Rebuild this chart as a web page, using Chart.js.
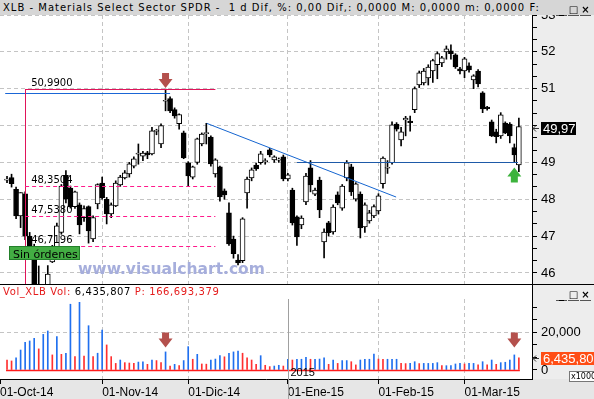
<!DOCTYPE html>
<html>
<head>
<meta charset="utf-8">
<title>XLB - Materials Select Sector SPDR</title>
<script src="https://cdn.jsdelivr.net/npm/chart.js@4.4.1/dist/chart.umd.min.js"></script>
<style>
  body { margin: 0; background: #fff; }
  #wrap { position: relative; width: 594px; height: 399px; overflow: hidden; background: #fff; }
  canvas { position: absolute; left: 0; }
  #main { top: 15px; }
  #vol { top: 285px; }
  .hdr { position: absolute; left: 0; width: 594px; height: 15px; box-sizing: border-box; padding-left: 3px;
         font: 10px 'DejaVu Sans', sans-serif; line-height: 15px; white-space: pre; letter-spacing: 0.6px; }
  #h1 { top: 0; background: #d6d6d6; color: #000; letter-spacing: 1px; }
  #h2 { top: 285px; height: 14px; line-height: 14px; color: #e51c1c; }
  #h2 b { font-weight: normal; color: #000; }
  #sep { position: absolute; left: 0; top: 284px; width: 594px; height: 1px; background: #000; }
  .btns { position: absolute; right: 3px; top: 2px; height: 11px; letter-spacing: 0; }
  .btns span { display: inline-block; width: 11px; height: 10px; margin-left: 1px; border-bottom: 1px solid #555;
               font: bold 10px 'DejaVu Sans', sans-serif; line-height: 10px; text-align: center; color: #000; }
</style>
</head>
<body>
<div id="wrap">
  <canvas id="main" width="594" height="269"></canvas>
  <canvas id="vol" width="594" height="114"></canvas>
  <div id="h1" class="hdr">XLB - Materials Select Sector SPDR -  1 d Dif, %: 0,00 Dif,: 0,0000 M: 0,0000 m: 0,0000 F:<div class="btns"><span>_</span><span>□</span><span>×</span></div></div>
  <div id="sep"></div>
  <div id="h2" class="hdr">Vol_XLB Vol: <b>6,435,807</b> P: 166,693,379<div class="btns" style="top:3px"><span>_</span><span>□</span><span>×</span></div></div>
</div>
<script>
// daily bars, 3 Oct 2014 .. 18 Mar 2015
const opens = [48.52,48.59,48.27,47.55,48.15,47.00,46.70,45.40,45.00,45.30,
  46.30,46.69,47.10,48.65,48.30,47.80,47.85,47.50,47.80,46.92,
  47.87,48.44,48.00,47.60,47.82,48.39,48.58,48.69,48.90,49.22,
  49.17,49.26,49.23,49.84,49.50,50.66,50.73,50.43,50.05,49.80,
  48.99,48.60,49.00,49.50,49.78,49.69,48.69,48.88,48.23,47.63,
  46.92,46.35,46.33,48.17,48.58,48.93,48.99,49.02,49.34,49.07,
  49.06,49.15,48.55,48.25,47.52,47.30,47.93,48.85,48.14,48.52,
  46.84,47.36,47.11,48.12,47.76,48.58,48.88,48.00,48.14,47.25,
  47.41,47.55,47.68,48.42,48.84,48.99,50.04,49.61,50.15,50.12,
  50.43,51.10,51.16,51.29,51.48,51.65,51.70,52.00,52.03,51.92,
  51.54,51.48,51.62,51.24,51.48,50.89,50.50,50.10,49.83,49.72,
  50.07,50.04,49.40,48.93];
const highs = [48.62,48.68,48.33,48.18,48.20,47.10,46.78,46.19,45.60,46.20,
  46.75,47.35,48.40,48.78,48.36,48.22,47.90,47.82,47.82,47.55,
  48.42,48.60,48.05,47.90,48.50,48.65,48.78,49.00,49.15,49.50,
  49.30,49.30,49.95,49.90,50.05,50.99,50.78,50.48,50.32,49.85,
  49.02,48.90,49.66,49.80,50.06,49.72,49.10,48.90,48.28,47.90,
  47.00,46.50,47.50,48.60,48.85,48.98,49.30,49.10,49.38,49.18,
  49.12,49.20,48.70,48.30,47.55,47.55,48.70,49.05,48.30,48.60,
  47.20,47.40,47.85,48.20,48.40,49.05,48.95,48.45,48.20,47.90,
  47.70,47.85,48.15,49.15,49.05,50.10,50.08,49.95,50.25,50.26,
  51.05,51.48,51.55,51.65,51.80,52.00,51.88,52.16,52.19,51.95,
  51.58,51.85,51.70,51.38,51.52,50.92,50.52,50.15,49.90,50.35,
  50.10,50.08,49.50,50.20];
const lows = [48.45,48.33,47.47,47.23,46.90,46.60,45.30,44.90,44.09,45.20,
  46.28,46.50,47.05,47.90,47.76,47.75,47.06,47.40,46.81,46.85,
  47.74,48.00,47.33,47.50,47.80,48.35,48.55,48.60,48.85,48.95,
  49.05,49.10,49.20,49.75,49.40,50.40,50.35,50.20,49.90,49.10,
  48.36,48.55,48.95,49.45,49.50,48.90,48.60,47.95,48.00,46.75,
  46.40,46.22,46.28,47.76,48.50,48.78,48.95,48.95,49.15,49.00,
  49.00,48.50,48.50,47.30,46.75,47.20,47.85,48.20,48.10,47.50,
  46.41,47.00,47.05,47.85,47.70,48.50,48.10,47.95,46.95,47.10,
  47.35,47.50,47.60,48.30,48.70,48.95,49.85,49.45,49.72,49.85,
  50.35,51.03,51.10,51.10,51.17,51.27,51.60,51.80,51.80,51.55,
  51.40,51.30,51.45,51.00,51.05,50.35,50.42,49.70,49.53,49.65,
  49.78,49.53,49.00,48.75];
const closes = [48.53,48.42,47.55,48.18,47.00,46.69,45.40,45.10,45.30,45.97,
  46.65,47.28,48.36,48.00,47.80,48.20,47.30,47.75,47.14,47.50,
  48.40,48.04,47.60,47.85,48.44,48.60,48.72,48.96,49.10,49.25,
  49.25,49.20,49.86,49.86,50.00,50.68,50.40,50.26,50.30,49.12,
  48.63,48.88,49.64,49.77,49.80,48.96,49.07,48.06,48.12,46.79,
  46.52,46.27,47.47,48.55,48.80,48.82,49.23,49.05,49.20,49.15,
  49.08,48.55,48.66,47.36,46.98,47.49,48.63,48.39,48.25,47.71,
  47.11,47.09,47.79,47.90,48.36,48.99,48.20,48.42,47.22,47.85,
  47.63,47.80,48.09,49.12,48.86,50.02,49.90,49.83,50.20,50.08,
  51.00,51.43,51.48,51.59,51.76,51.95,51.84,52.08,51.95,51.59,
  51.48,51.81,51.51,51.35,51.13,50.45,50.46,49.72,49.70,50.29,
  49.80,49.72,49.20,49.97];
// volume in thousands of shares
const volumes = [5300,4800,6500,10600,14700,15400,16800,11200,18900,20700,
  8000,17700,8300,8900,34900,7100,35900,7400,23500,7100,
  8900,21200,13300,7100,3500,5300,3900,3700,3500,4200,
  4400,3000,5300,5000,3900,9600,2100,3000,2300,5000,
  12400,5700,8300,3200,3100,5300,5800,7600,7000,8900,
  9600,10100,8900,6500,5300,3000,7600,2500,1800,2100,
  2500,2100,5700,5300,5700,5700,6700,5700,5700,5800,
  6500,3000,5300,3500,5000,5000,4400,2700,5300,5700,
  5700,8500,5800,5700,5700,5700,5700,3500,3400,3500,
  4400,3400,3500,3500,3500,3900,2300,2300,2300,3200,
  3500,3200,3500,3500,2700,4400,2700,5300,3000,3900,
  4100,5300,8000,6436];

const monthLabels = ['01-Oct-14', '01-Nov-14', '01-Dic-14', '01-Ene-15', '01-Feb-15', '01-Mar-15'];
const monthStarts = [null, 21, 40, 62, 82, 101];   // bar index of first session (Oct is off the left edge)
const yearStart = 62;
const yearLabel = '2015';
const priceLabels = [46, 47, 48, 49, 50, 51, 52, 53];
const volLabels = [0, 20000];

const fibLevels = [50.99, 48.3504, 47.538, 46.7196];
const fibFrom = 4, fibTo = 46;
const resistance = { from: -0.4, to: 36, price: 50.89 };
const trend = { from: 44.1, p1: 50.06, to: 85.9, p2: 48.06 };
const support = { from: 64, to: 112.8, price: 49.0 };
const sellSignals = [35];
const buySignals = [112];
const volSignals = [35, 112];
const volSignalLevel = 12000;
const lastPrice = 49.97;
const lastVol = 6435.807;

const xMin = -1.55, xMax = 115.9;
const idx = opens.map((_, i) => i);
const narrow = "'Liberation Sans Narrow', 'Liberation Sans', sans-serif";
const axisFont = { family: narrow, size: 13 };
const isInt = v => Math.abs(v - Math.round(v)) < 1e-6;
const zeroPad = s => { s.paddingTop = 0; s.paddingBottom = 0; s.paddingLeft = 0; s.paddingRight = 0; };
const thirds = labels => {
  const t = [];
  for (let k = 0; k < labels.length; k++) {
    t.push({ value: labels[k] });
    if (k < labels.length - 1) {
      const step = (labels[k + 1] - labels[k]) / 3;
      t.push({ value: labels[k] + step }, { value: labels[k] + 2 * step });
    }
  }
  return t;
};

function hLine(ctx, x1, x2, y, color, dash) {
  ctx.save(); ctx.strokeStyle = color; ctx.lineWidth = 1; ctx.setLineDash(dash || []);
  const yy = Math.round(y) + 0.5;
  ctx.beginPath(); ctx.moveTo(x1, yy); ctx.lineTo(x2, yy); ctx.stroke(); ctx.restore();
}
function arrow(ctx, cx, tip, dir, color) {
  // dir 1: pointing down (tip at bottom), -1: pointing up (tip at top)
  const s = -dir;
  ctx.save(); ctx.fillStyle = color; ctx.beginPath();
  ctx.moveTo(cx, tip);
  ctx.lineTo(cx + 7, tip + s * 9); ctx.lineTo(cx + 3.5, tip + s * 9);
  ctx.lineTo(cx + 3.5, tip + s * 15); ctx.lineTo(cx - 3.5, tip + s * 15);
  ctx.lineTo(cx - 3.5, tip + s * 9); ctx.lineTo(cx - 7, tip + s * 9);
  ctx.closePath(); ctx.fill(); ctx.restore();
}
function axisMarker(ctx, x, y) {
  ctx.save(); ctx.strokeStyle = '#333'; ctx.lineWidth = 1;
  ctx.beginPath(); ctx.moveTo(x + 1, y + 0.5); ctx.lineTo(x + 7, y + 0.5);
  ctx.moveTo(x + 4, y - 2.5); ctx.lineTo(x + 1, y + 0.5); ctx.lineTo(x + 4, y + 3.5); ctx.stroke(); ctx.restore();
}

const mainDecor = {
  id: 'mainDecor',
  beforeDraw(chart) {
    const { ctx, chartArea: a, width, height } = chart;
    ctx.save(); ctx.fillStyle = '#ededed'; ctx.fillRect(a.right, 0, width - a.right, height); ctx.restore();
  },
  beforeDatasetsDraw(chart) {
    const { ctx } = chart;
    ctx.save();
    ctx.fillStyle = '#a6aedc';
    ctx.font = "bold 15.5px 'DejaVu Sans', sans-serif";
    ctx.textBaseline = 'alphabetic';
    ctx.fillText('www.visualchart.com', 78, 258.5);
    ctx.restore();
  },
  afterDatasetsDraw(chart) {
    const { ctx, scales: { x, y }, chartArea: a } = chart;
    const X = v => x.getPixelForValue(v), Y = v => y.getPixelForValue(v);
    ctx.save();
    ctx.beginPath(); ctx.rect(a.left, a.top, a.right - a.left, a.bottom - a.top); ctx.clip();

    hLine(ctx, X(resistance.from), X(resistance.to), Y(resistance.price), '#1a66d6');

    const fx1 = X(fibFrom), fx2 = X(fibTo);
    hLine(ctx, fx1, fx2, Y(fibLevels[0]), '#e0145a');
    ctx.strokeStyle = '#e0145a'; ctx.lineWidth = 1;
    ctx.beginPath(); ctx.moveTo(Math.round(fx1) + 0.5, Math.round(Y(fibLevels[0]))); ctx.lineTo(Math.round(fx1) + 0.5, a.bottom); ctx.stroke();
    fibLevels.slice(1).forEach(p => hLine(ctx, fx1, fx2, Y(p), '#ff1a8c', [4, 3]));
    ctx.fillStyle = '#000'; ctx.font = "10px 'DejaVu Sans', sans-serif"; ctx.textBaseline = 'alphabetic';
    fibLevels.forEach(p => ctx.fillText(p.toFixed(4).replace('.', ','), fx1 + 6, Y(p) - 3));

    ctx.strokeStyle = '#1565d0'; ctx.lineWidth = 1;
    ctx.beginPath(); ctx.moveTo(X(trend.from), Y(trend.p1)); ctx.lineTo(X(trend.to), Y(trend.p2)); ctx.stroke();
    hLine(ctx, X(support.from), X(support.to), Y(support.price), '#1e5aa8');

    sellSignals.forEach(i => arrow(ctx, X(i), Y(highs[i]) - 1, 1, '#b4504c'));
    buySignals.forEach(i => arrow(ctx, X(i), Y(lows[i]) + 5, -1, '#3db33d'));

    // order status tag
    ctx.fillStyle = '#43ad43'; ctx.fillRect(9, 231.5, 71, 13);
    ctx.strokeStyle = '#23802a'; ctx.strokeRect(9.5, 231.5, 70, 13);
    ctx.fillStyle = '#000'; ctx.font = "11px 'DejaVu Sans', sans-serif";
    ctx.fillText('Sin órdenes', 13, 242.5);
    ctx.restore();
  },
  afterDraw(chart) {
    const { ctx, scales: { y }, chartArea: a } = chart;
    const py = Math.round(y.getPixelForValue(lastPrice)) + 1;
    ctx.save();
    ctx.fillStyle = '#000'; ctx.fillRect(a.right + 9, py - 6, 35, 13);
    ctx.fillStyle = '#fff'; ctx.font = `13px ${narrow}`; ctx.textBaseline = 'middle';
    ctx.fillText(lastPrice.toFixed(2).replace('.', ','), a.right + 11, py + 1);
    axisMarker(ctx, a.right, py);
    ctx.restore();
  }
};

new Chart(document.getElementById('main'), {
  type: 'bar',
  data: {
    datasets: [
      { data: idx.map(i => ({ x: i, y: [lows[i], highs[i]] })), backgroundColor: '#000',
        barThickness: 1, grouped: false, order: 2 },
      { data: idx.map(i => ({ x: i, y: [Math.min(opens[i], closes[i]), Math.max(opens[i], closes[i])] })),
        backgroundColor: idx.map(i => closes[i] >= opens[i] ? '#fff' : '#000'),
        borderColor: '#000', borderWidth: 1, borderSkipped: false, barThickness: 5, minBarLength: 1,
        grouped: false, order: 1 }
    ]
  },
  options: {
    responsive: false, animation: false, devicePixelRatio: 1, events: [],
    layout: { padding: 0 },
    plugins: { legend: { display: false }, tooltip: { enabled: false } },
    scales: {
      x: {
        type: 'linear', min: xMin, max: xMax, offset: false,
        afterBuildTicks: s => { s.ticks = monthStarts.filter(v => v !== null).map(v => ({ value: v })); },
        afterFit: s => { zeroPad(s); s.height = 0; },
        ticks: { display: false },
        grid: { offset: false, color: '#c4c4c4', drawTicks: false },
        border: { display: false, dash: [4, 3] }
      },
      y: {
        position: 'right', min: 45.7, max: 53,
        afterBuildTicks: s => { s.ticks = thirds(priceLabels); },
        afterFit: s => { zeroPad(s); s.width = 62; },
        ticks: { autoSkip: false, color: '#000', font: axisFont, padding: 4,
                 // the last-price tag covers the label it sits on
                 callback: v => (isInt(v) && Math.abs(v - lastPrice) > 0.25) ? String(Math.round(v)) : '' },
        grid: { offset: false, color: c => (c.tick && isInt(c.tick.value)) ? '#c4c4c4' : 'rgba(0,0,0,0)',
                tickColor: '#000', tickLength: 5 },
        border: { color: '#000', dash: [4, 3] }
      }
    }
  },
  plugins: [mainDecor]
});

const volDecor = {
  id: 'volDecor',
  beforeDraw(chart) {
    const { ctx, chartArea: a, width, height } = chart;
    ctx.save();
    ctx.fillStyle = '#ededed'; ctx.fillRect(a.right, 0, width - a.right, a.bottom);
    ctx.fillStyle = '#e6e6e6'; ctx.fillRect(0, a.bottom, width, height - a.bottom);
    ctx.restore();
  },
  afterDatasetsDraw(chart) {
    const { ctx, scales: { x, y }, chartArea: a, height } = chart;
    const X = v => x.getPixelForValue(v), Y = v => y.getPixelForValue(v);
    ctx.save();
    ctx.strokeStyle = '#ff1a1a'; ctx.lineWidth = 1.5;
    ctx.beginPath(); ctx.moveTo(X(0) - 1, Math.round(Y(0)) + 0.5); ctx.lineTo(X(idx.length - 1) + 1, Math.round(Y(0)) + 0.5); ctx.stroke();
    const yx = Math.round(X(yearStart)) + 0.5;
    ctx.strokeStyle = '#a0a0a0'; ctx.lineWidth = 1;
    ctx.beginPath(); ctx.moveTo(yx, a.top); ctx.lineTo(yx, height); ctx.stroke();
    ctx.fillStyle = '#000'; ctx.font = "11px 'Liberation Sans', sans-serif"; ctx.textBaseline = 'alphabetic';
    ctx.fillText(yearLabel, yx + 2, a.bottom - 3);
    volSignals.forEach(i => arrow(ctx, X(i), Y(volSignalLevel), 1, '#b4504c'));
    ctx.restore();
  },
  afterDraw(chart) {
    const { ctx, scales: { y }, chartArea: a, width } = chart;
    ctx.save();
    ctx.strokeStyle = '#000'; ctx.lineWidth = 1;
    ctx.beginPath(); ctx.moveTo(a.right + 0.5, 0); ctx.lineTo(a.right + 0.5, a.top); ctx.stroke();
    const py = Math.round(y.getPixelForValue(lastVol));
    ctx.fillStyle = '#ff4d14'; ctx.fillRect(a.right + 9, py - 6, width - a.right - 9, 13);
    ctx.fillStyle = '#fff'; ctx.font = `13px ${narrow}`; ctx.textBaseline = 'middle';
    ctx.fillText(Math.round(lastVol * 1000).toLocaleString('en-US'), a.right + 11, py + 1);
    axisMarker(ctx, a.right, py);
    ctx.fillStyle = '#fff'; ctx.fillRect(569, a.bottom - 8, 25, 10);
    ctx.strokeStyle = '#777'; ctx.strokeRect(569.5, a.bottom - 7.5, 25, 10);
    ctx.fillStyle = '#000'; ctx.font = "8px 'DejaVu Sans', sans-serif"; ctx.textBaseline = 'middle';
    ctx.fillText('x1000', 571, a.bottom - 2);
    ctx.restore();
  }
};

new Chart(document.getElementById('vol'), {
  type: 'bar',
  data: {
    datasets: [{
      data: idx.map(i => ({ x: i, y: volumes[i] })),
      backgroundColor: idx.map(i => (i > 0 && volumes[i] >= volumes[i - 1]) ? '#1f6fef' : '#ff3030'),
      barThickness: 1, grouped: false
    }]
  },
  options: {
    responsive: false, animation: false, devicePixelRatio: 1, events: [],
    layout: { padding: { top: 14 } },
    plugins: { legend: { display: false }, tooltip: { enabled: false } },
    scales: {
      x: {
        type: 'linear', min: xMin, max: xMax, offset: false,
        afterBuildTicks: s => { s.ticks = monthStarts.map(v => ({ value: v === null ? xMin : v })); },
        afterFit: s => { zeroPad(s); s.height = 20; },
        ticks: { autoSkip: false, maxRotation: 0, minRotation: 0, align: 'start', padding: 1, color: '#000',
                 font: { family: "'Liberation Sans', sans-serif", size: 12 },
                 callback: (v, k) => monthLabels[k] },
        grid: { offset: false, tickColor: '#000', tickLength: 5,
                color: c => (!c.tick || c.index === 0 || c.tick.value === yearStart) ? 'rgba(0,0,0,0)' : '#c4c4c4' },
        border: { color: '#000', dash: [4, 3] }
      },
      y: {
        position: 'right', min: -4775, max: 37666,
        afterBuildTicks: s => { s.ticks = thirds([0, 20000, 40000]).filter(t => t.value <= 37666); },
        afterFit: s => { zeroPad(s); s.width = 62; },
        ticks: { autoSkip: false, color: '#000', font: axisFont, padding: 4,
                 callback: v => volLabels.some(l => Math.abs(l - v) < 1) ? Math.round(v).toLocaleString('en-US') : '' },
        grid: { offset: false, tickColor: '#000', tickLength: 5,
                color: c => (c.tick && Math.abs(c.tick.value - 20000) < 1) ? '#c4c4c4' : 'rgba(0,0,0,0)' },
        border: { color: '#000', dash: [4, 3] }
      }
    }
  },
  plugins: [volDecor]
});
</script>
</body>
</html>
